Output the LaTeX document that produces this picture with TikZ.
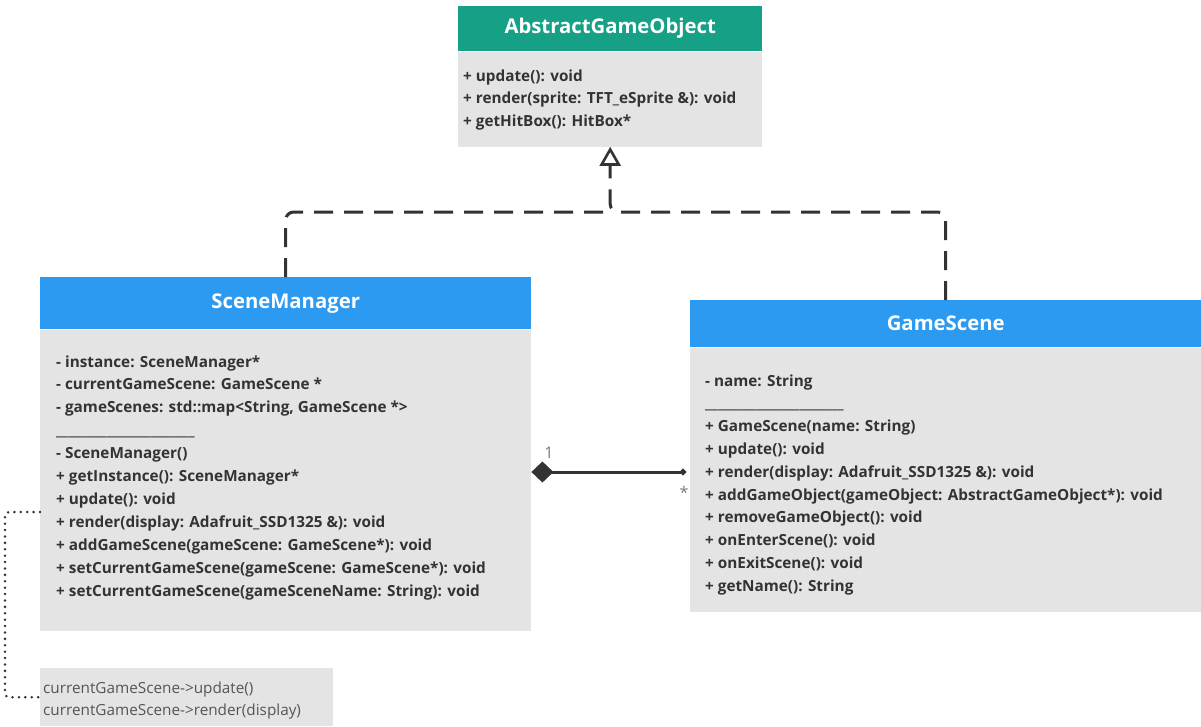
\documentclass[tikz,border=0pt]{standalone}
\usepackage{fontspec}
\usetikzlibrary{arrows.meta}
\setmainfont{Open Sans}
\IfFontExistsTF{Open Sans SemiBold}
  {\newfontfamily\semib{Open Sans SemiBold}}
  {\newcommand\semib{\bfseries}}

\definecolor{hdrgreen}{RGB}{22,160,133}
\definecolor{hdrblue}{RGB}{44,154,240}
\definecolor{boxgray}{RGB}{228,228,228}
\definecolor{ink}{RGB}{51,51,51}
\definecolor{notegray}{RGB}{85,85,85}
\definecolor{multgray}{RGB}{120,120,120}

\tikzset{
  hdr/.style={draw=none, anchor=north west, inner sep=0pt, text=white,
    font=\bfseries\fontsize{20.3}{24}\selectfont},
  hdrG/.style={hdr, fill=hdrgreen},
  hdrB/.style={hdr, fill=hdrblue},
  bodybox/.style={draw=none, fill=boxgray, anchor=north west, inner sep=0pt},
  member/.style={anchor=base west, inner sep=0pt, text=ink,
    font=\semib\fontsize{15.3}{18}\selectfont},
  notetext/.style={anchor=base west, inner sep=0pt, text=notegray,
    font=\fontsize{15.3}{18}\selectfont},
  realize/.style={draw=ink, line width=3pt, dash pattern=on 19pt off 11pt,
    rounded corners=8pt},
  compose/.style={draw=ink, line width=3pt},
  dotlink/.style={draw=ink, line width=2.8pt, dash pattern=on 0pt off 6.4pt,
    line cap=round, rounded corners=4pt},
  mult/.style={inner sep=0pt, text=multgray, font=\fontsize{16}{18}\selectfont}
}

\begin{document}
\begin{tikzpicture}[x=1pt, y=-1pt]
\useasboundingbox (0,0) rectangle (1201,726);

% ---- AbstractGameObject ----
\node[hdrG, minimum width=304pt, minimum height=45pt] (agoH) at (458,6) {AbstractGameObject};
\node[bodybox, minimum width=304pt, minimum height=95pt] (agoB) at (agoH.south west) {};
\foreach \t [count=\i from 0] in {%
  {+ update(): void},
  {+ render(sprite: TFT\_eSprite \&): void},
  {+ getHitBox(): HitBox*}}
  \node[member] (ago-\i) at (463, 81+22.9*\i) {\t};

% ---- SceneManager ----
\node[hdrB, minimum width=491pt, minimum height=52pt] (smH) at (40,277) {SceneManager};
\node[bodybox, minimum width=491pt, minimum height=301pt] (smB) at (smH.south west) {};
\foreach \t [count=\i from 0] in {%
  {- instance: SceneManager*},
  {- currentGameScene: GameScene *},
  {- gameScenes: std::map<String, GameScene *>},
  {\_\_\_\_\_\_\_\_\_\_\_\_\_\_\_\_\_\_\_\_\_\_},
  {- SceneManager()},
  {+ getInstance(): SceneManager*},
  {+ update(): void},
  {+ render(display: Adafruit\_SSD1325 \&): void},
  {+ addGameScene(gameScene: GameScene*): void},
  {+ setCurrentGameScene(gameScene: GameScene*): void},
  {+ setCurrentGameScene(gameSceneName: String): void}}
  \node[member] (sm-\i) at (56, 367+22.9*\i) {\t};

% ---- GameScene ----
\node[hdrB, minimum width=511pt, minimum height=47pt] (gsH) at (690,300) {GameScene};
\node[bodybox, minimum width=511pt, minimum height=264pt] (gsB) at (gsH.south west) {};
\foreach \t [count=\i from 0] in {%
  {- name: String},
  {\_\_\_\_\_\_\_\_\_\_\_\_\_\_\_\_\_\_\_\_\_\_},
  {+ GameScene(name: String)},
  {+ update(): void},
  {+ render(display: Adafruit\_SSD1325 \&): void},
  {+ addGameObject(gameObject: AbstractGameObject*): void},
  {+ removeGameObject(): void},
  {+ onEnterScene(): void},
  {+ onExitScene(): void},
  {+ getName(): String}}
  \node[member] (gs-\i) at (705, 386+22.8*\i) {\t};

% ---- note ----
\node[bodybox, minimum width=293pt, minimum height=58pt] (note) at (40,668) {};
\node[notetext] (note-0) at (43,693) {currentGameScene->update()};
\node[notetext] (note-1) at (43,715) {currentGameScene->render(display)};

% ---- realization links to the interface ----
\coordinate (junc) at (agoB.south |- 0,212);
\draw[realize] (smH.north) |- (junc);
\draw[realize, -{Triangle[open, width=21pt, length=19pt, line width=2.6pt]}]
  (gsH.north) |- (junc) -- (agoB.south);

% ---- composition SceneManager <>-- GameScene ----
\coordinate (compA) at (smB.east |- 0,472);
\coordinate (compB) at ([xshift=-4pt]gsB.west |- 0,472);
\draw[compose, {Diamond[width=21pt, length=22pt]}-{Circle[length=6pt]}] (compA) -- (compB);
\node[mult] (mult-one) at (549,453) {1};
\node[mult] (mult-many) at (684,492) {*};

% ---- dotted link from render() to the note ----
\coordinate (dotA) at (smB.west |- 0,512);
\draw[dotlink] (dotA) -- ++(-35,0) |- (note.west);
\end{tikzpicture}
\end{document}
